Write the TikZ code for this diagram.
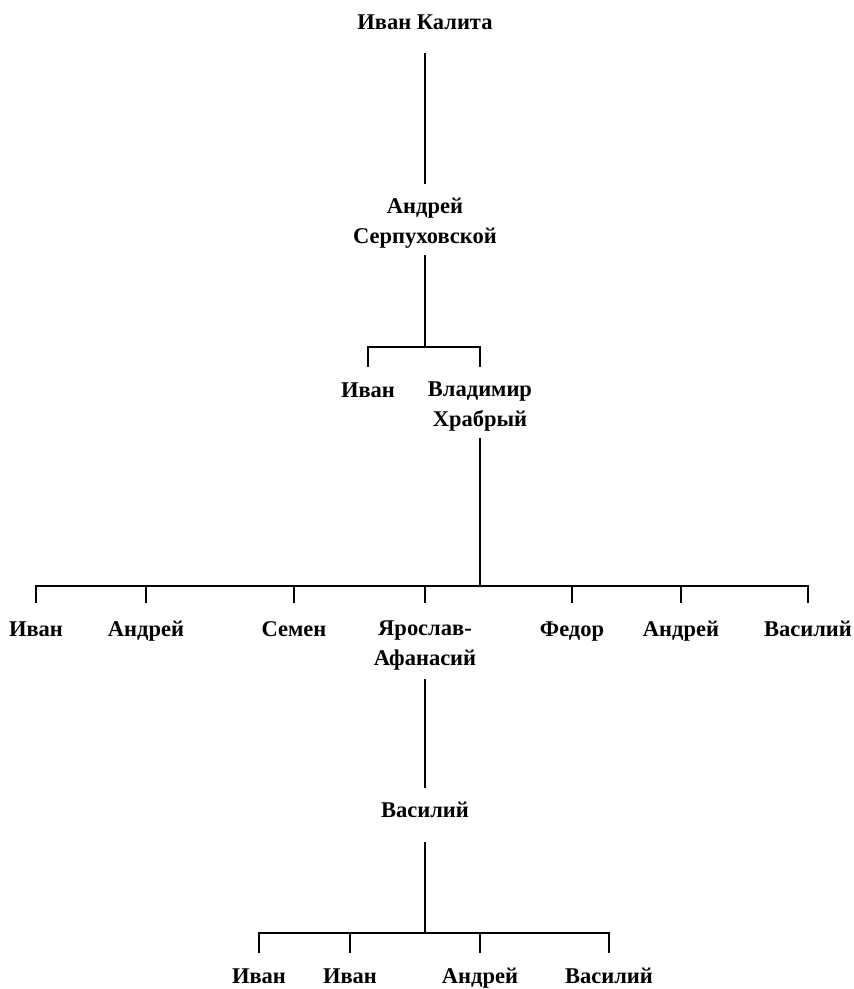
\documentclass[tikz,border=0pt]{standalone}
\usepackage{fontspec}
\setmainfont{Liberation Serif}
\begin{document}
\begin{tikzpicture}[x=1pt,y=-1pt,
  person/.style={font=\bfseries\fontsize{22.5}{29.5}\selectfont, inner sep=0pt, outer sep=0pt,
    text height=16pt, text depth=6pt, align=center, anchor=base},
  twoline/.style={person, text height=45.5pt},
  link/.style={line width=2.6pt},
  tick/.style={line width=2.1pt}]
\useasboundingbox (0,0) rectangle (854,989);
% nodes (anchor = baseline of the last line)
\node[person] (kalita) at (425,29) {Иван Калита};
\node[twoline] (andrey) at (425,243) {Андрей\\Серпуховской};
\node[person] (ivanA) at (368,397) {Иван};
\node[twoline] (vlad) at (480,426) {Владимир\\Храбрый};
\node[person] (ivanB) at (36,636) {Иван};
\node[person] (andreyB) at (146,636) {Андрей};
\node[person] (semen) at (294,636) {Семен};
\node[twoline] (yarosl) at (425,665) {Ярослав-\\Афанасий};
\node[person] (fedor) at (572,636) {Федор};
\node[person] (andreyC) at (681,636) {Андрей};
\node[person] (vasB) at (808,636) {Василий};
\node[person] (vas) at (425,817) {Василий};
\node[person] (ivanC) at (259,983) {Иван};
\node[person] (ivanD) at (350,983) {Иван};
\node[person] (andreyD) at (480,983) {Андрей};
\node[person] (vasC) at (609,983) {Василий};
% junctions
\coordinate (j1) at (425,347);
\coordinate (j2) at (480,586);
\coordinate (j3) at (425,933);
% connectors
\draw[link, shorten <=18pt, shorten >=14pt] (kalita.south) -- (andrey.north);
\draw[link, shorten <=6pt] (andrey.south) -- (j1);
\draw[tick, shorten >=14pt] (j1) -| (ivanA.north);
\draw[tick, shorten >=14pt] (j1) -| (vlad.north);
\draw[link, shorten <=6pt] (vlad.south) -- (j2);
\foreach \c in {ivanB,andreyB,semen,yarosl,fedor,andreyC,vasB}
  \draw[tick, shorten >=17pt] (j2) -| (\c.north);
\draw[link, shorten <=8pt, shorten >=13pt] (yarosl.south) -- (vas.north);
\draw[link, shorten <=19pt] (vas.south) -- (j3);
\foreach \c in {ivanC,ivanD,andreyD,vasC}
  \draw[tick, shorten >=14pt] (j3) -| (\c.north);
\end{tikzpicture}
\end{document}
